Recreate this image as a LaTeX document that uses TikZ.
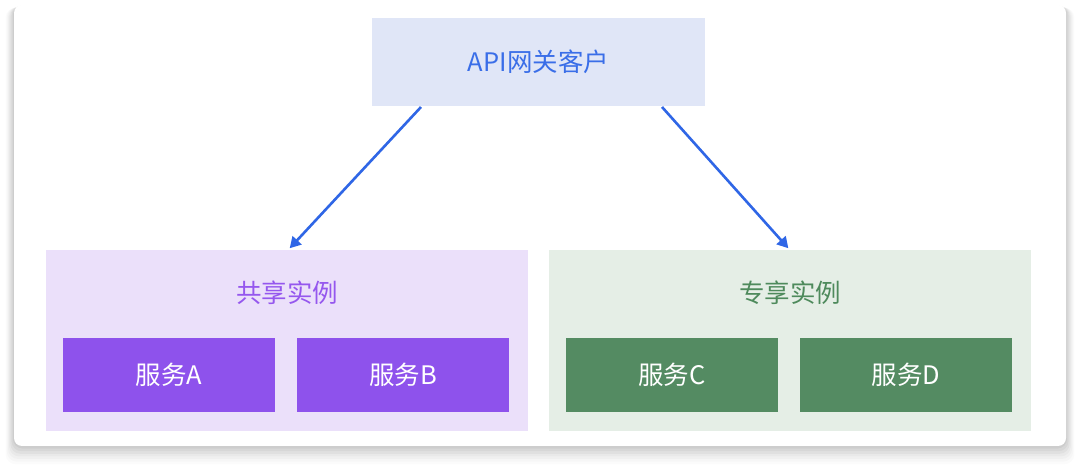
\documentclass[tikz,border=0pt]{standalone}
\usepackage{fontspec}
\newfontfamily\cjk{Noto Sans CJK SC}
\usetikzlibrary{arrows.meta}
\definecolor{topfill}{HTML}{E0E6F7}
\definecolor{toptext}{HTML}{3A6EE8}
\definecolor{arrowc}{HTML}{2F66E6}
\definecolor{lgfill}{HTML}{EBE0FA}
\definecolor{lgtext}{HTML}{9557EE}
\definecolor{lsfill}{HTML}{8E52EC}
\definecolor{rgfill}{HTML}{E5EEE6}
\definecolor{rgtext}{HTML}{4E8A5C}
\definecolor{rsfill}{HTML}{548B62}
\tikzset{
  box/.style={inner sep=0pt, outer sep=0pt, font=\cjk\fontsize{25.5}{30}\selectfont},
  topbox/.style={box, fill=topfill, text=toptext, minimum width=333pt, minimum height=88pt},
  groupbox/.style={box, minimum width=482pt, minimum height=181pt},
  svcbox/.style={box, text=white, minimum width=212pt, minimum height=74pt},
  title/.style={inner sep=0pt, font=\cjk\fontsize{25.5}{30}\selectfont},
  conn/.style={arrowc, line width=2.6pt, -{Triangle[length=11pt,width=12pt]}, shorten >=1pt}
}
\begin{document}
\begin{tikzpicture}[x=1pt,y=-1pt]
\useasboundingbox (0,0) rectangle (1080,470);
\fill[white] (0,0) rectangle (1080,470);
% shadow
\foreach \i/\o in {14/0.014,12/0.018,10/0.022,8/0.028,6/0.034,4/0.04,2/0.045} {
  \fill[black, opacity=\o, rounded corners=10pt] (14-\i*0.6, 5+\i*0.2) rectangle (1066+\i*0.6, 446+\i*1.3);
}
\fill[white, rounded corners=8pt] (14,5) rectangle (1066,446);
% top
\node[topbox] (top) at (538.5,62) {API网关客户};
% groups
\node[groupbox, fill=lgfill] (lg) at (287,340.5) {};
\node[groupbox, fill=rgfill] (rg) at (790,340.5) {};
\node[title, text=lgtext] (lt) at (287,293) {共享实例};
\node[title, text=rgtext] (rt) at (790,293) {专享实例};
\node[svcbox, fill=lsfill] (a) at (169,375) {服务A};
\node[svcbox, fill=lsfill] (b) at (403,375) {服务B};
\node[svcbox, fill=rsfill] (c) at (672,375) {服务C};
\node[svcbox, fill=rsfill] (d) at (906,375) {服务D};
% connectors
\coordinate (s1) at (421,107);
\coordinate (e1) at (289,249);
\coordinate (s2) at (662,107);
\coordinate (e2) at (789,249);
\draw[conn] (s1) -- (e1);
\draw[conn] (s2) -- (e2);
\end{tikzpicture}
\end{document}
